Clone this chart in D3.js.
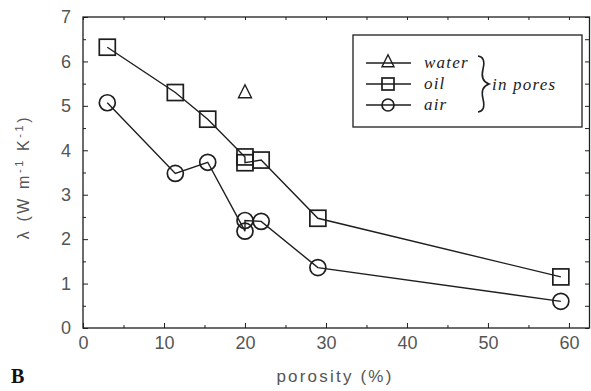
<!DOCTYPE html>
<html><head><meta charset="utf-8">
<script src="https://cdn.jsdelivr.net/npm/d3@7"></script>
<style>body{margin:0;background:#fff}svg{display:block}</style>
</head><body>
<svg id="c" width="591" height="391"></svg>
<script>
const xTicks = [0, 10, 20, 30, 40, 50, 60];
const yTicks = [0, 1, 2, 3, 4, 5, 6, 7];
const waterX = [20];
const waterY = [5.3];
const oilX = [3, 11.4, 15.4, 20, 20, 22, 29, 59];
const oilY = [6.32, 5.3, 4.7, 3.85, 3.72, 3.78, 2.47, 1.15];
const airX = [3, 11.4, 15.4, 20, 20, 22, 29, 59];
const airY = [5.07, 3.48, 3.73, 2.18, 2.42, 2.4, 1.36, 0.6];
const legendLabels = ["water", "oil", "air"];

const W = 591, H = 391;
const m = {l: 83, r: 1, t: 17, b: 63};
const svg = d3.select("#c");
const x = d3.scaleLinear().domain([0, 62.6]).range([m.l, W - m.r]);
const y = d3.scaleLinear().domain([0, 7]).range([H - m.b, m.t]);
const ink = "#1e1e1e", grey = "#555";

// frame
svg.append("rect").attr("x", m.l).attr("y", m.t)
  .attr("width", W - m.r - m.l - 0.5).attr("height", H - m.b - m.t)
  .attr("fill", "none").attr("stroke", ink).attr("stroke-width", 1.3);

// axes (inward ticks)
const xMinor = d3.range(5, 62, 5).filter(v => v % 10 !== 0);
const yMinor = d3.range(0.5, 7, 1);
function axisStyle(g){ g.select(".domain").remove(); g.selectAll("line").attr("stroke", ink).attr("stroke-width", 1); }
svg.append("g").attr("transform", `translate(0,${H - m.b})`)
  .call(d3.axisBottom(x).tickValues(xTicks).tickSize(-5).tickPadding(8).tickFormat(d3.format("d")))
  .call(axisStyle)
  .call(g => g.selectAll("text").attr("font-family", "Liberation Sans, Arial").attr("font-size", 18).attr("fill", grey));
svg.append("g").attr("transform", `translate(0,${H - m.b})`)
  .call(d3.axisBottom(x).tickValues(xMinor).tickSize(-3).tickFormat(""))
  .call(axisStyle);
svg.append("g").attr("transform", `translate(0,${m.t})`)
  .call(d3.axisTop(x).tickValues(xTicks.concat(xMinor)).tickSize(-3).tickFormat(""))
  .call(axisStyle);
svg.append("g").attr("transform", `translate(${m.l},0)`)
  .call(d3.axisLeft(y).tickValues(yTicks).tickSize(-5).tickPadding(12).tickFormat(d3.format("d")))
  .call(axisStyle)
  .call(g => g.selectAll("text").attr("font-family", "Liberation Sans, Arial").attr("font-size", 18).attr("fill", grey));
svg.append("g").attr("transform", `translate(${m.l},0)`)
  .call(d3.axisLeft(y).tickValues(yMinor).tickSize(-3).tickFormat(""))
  .call(axisStyle);
svg.append("g").attr("transform", `translate(${W - m.r - 1},0)`)
  .call(d3.axisRight(y).tickValues(yTicks.concat(yMinor)).tickSize(-4).tickFormat(""))
  .call(axisStyle);

// axis labels
svg.append("text").attr("x", 335).attr("y", 382).attr("text-anchor", "middle")
  .attr("font-family", "Liberation Sans, Arial").attr("font-size", 17).attr("letter-spacing", 2.2)
  .attr("fill", grey).text("porosity (%)");
const yl = svg.append("text").attr("transform", "translate(29,177) rotate(-90)")
  .attr("text-anchor", "middle").attr("font-family", "Liberation Sans, Arial")
  .attr("font-size", 16).attr("letter-spacing", 2.6).attr("fill", grey);
yl.append("tspan").text("λ  (W m");
yl.append("tspan").attr("dy", -6).attr("font-size", 11).text("-1");
yl.append("tspan").attr("dy", 6).text(" K");
yl.append("tspan").attr("dy", -6).attr("font-size", 11).text("-1");
yl.append("tspan").attr("dy", 6).text(")");
svg.append("text").attr("x", 11).attr("y", 383).attr("font-family", "Liberation Serif, serif")
  .attr("font-weight", "bold").attr("font-size", 20).attr("fill", "#111").text("B");

// data
const zip = (a, b) => a.map((v, i) => [v, b[i]]);
const line = d3.line().x(d => x(d[0])).y(d => y(d[1]));
const oil = zip(oilX, oilY), air = zip(airX, airY), water = zip(waterX, waterY);
svg.append("path").datum(oil).attr("d", line).attr("fill", "none").attr("stroke", ink).attr("stroke-width", 1.4);
svg.append("path").datum(air).attr("d", line).attr("fill", "none").attr("stroke", ink).attr("stroke-width", 1.4);

function sq(g, cx, cy, s){ g.append("rect").attr("x", cx - s/2).attr("y", cy - s/2).attr("width", s).attr("height", s)
  .attr("fill", "none").attr("stroke", ink).attr("stroke-width", 1.7); }
function circ(g, cx, cy, r){ g.append("circle").attr("cx", cx).attr("cy", cy).attr("r", r)
  .attr("fill", "none").attr("stroke", ink).attr("stroke-width", 1.7); }
function tri(g, cx, cy, s){ g.append("path").attr("d", `M${cx},${cy - s*0.6}L${cx + s/2},${cy + s*0.4}L${cx - s/2},${cy + s*0.4}Z`)
  .attr("fill", "none").attr("stroke", ink).attr("stroke-width", 1.4); }
const mk = svg.append("g");
oil.forEach(d => sq(mk, x(d[0]), y(d[1]), 16));
air.forEach(d => circ(mk, x(d[0]), y(d[1]), 8));
water.forEach(d => tri(mk, x(d[0]), y(d[1]), 13));

// legend
const lg = svg.append("g");
lg.append("rect").attr("x", 353).attr("y", 35).attr("width", 229).attr("height", 92)
  .attr("fill", "#fff").attr("stroke", ink).attr("stroke-width", 1.3);
const ly = [63, 84, 105];
legendLabels.forEach((t, i) => {
  lg.append("line").attr("x1", 366).attr("x2", 411).attr("y1", ly[i]).attr("y2", ly[i]).attr("stroke", ink).attr("stroke-width", 1.6);
  if (i === 0) tri(lg, 388, ly[i] - 1, 12);
  if (i === 1) sq(lg, 388, ly[i], 12);
  if (i === 2) circ(lg, 388, ly[i], 6);
  lg.append("text").attr("x", 424).attr("y", ly[i] + 5).attr("font-family", "Liberation Serif, serif")
    .attr("font-style", "italic").attr("font-size", 17).attr("letter-spacing", 1.2).attr("fill", "#222").text(t);
});
lg.append("path").attr("d", "M478,56 Q486,57 483,69 Q480,81 489,84 Q480,87 483,99 Q486,111 478,112")
  .attr("fill", "none").attr("stroke", ink).attr("stroke-width", 1.6);
lg.append("text").attr("x", 492).attr("y", 90).attr("font-family", "Liberation Serif, serif")
  .attr("font-style", "italic").attr("font-size", 17).attr("letter-spacing", 1.2).attr("fill", "#222").text("in pores");
</script>
</body></html>
